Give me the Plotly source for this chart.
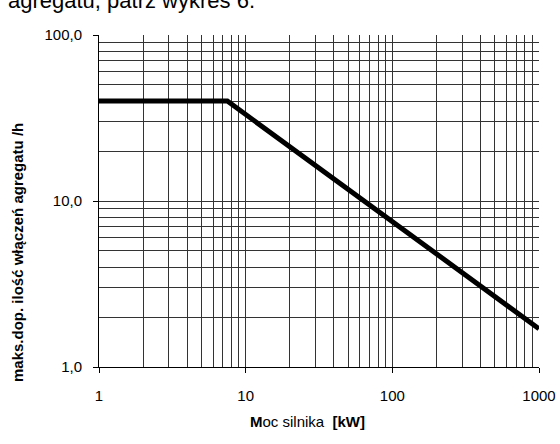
import plotly.graph_objects as go

power_kw = [1, 7.5, 1000]
max_starts = [40, 40, 1.7]

x_major = [1, 10, 100, 1000]
x_major_labels = ["1", "10", "100", "1000"]
y_major = [1, 10, 100]
y_major_labels = ["1,0", "10,0", "100,0"]

x_minor = [m * d for d in [1, 10, 100] for m in range(2, 10)]
y_minor = [m * d for d in [1, 10] for m in range(2, 10)]

L, R, T, B = 99, 21, 35, 77
W, H = 560, 444
PW, PH = W - L - R, H - T - B

def px_x(px):
    return (px - L) / PW

def px_y(py):
    return 1 - (py - T) / PH

fig = go.Figure()
fig.add_trace(go.Scatter(x=power_kw, y=max_starts, mode="lines",
                         line=dict(color="black", width=5), showlegend=False))

grid_col = "#333333"
fig.update_layout(
    width=W, height=H,
    margin=dict(l=L, r=R, t=T, b=B),
    paper_bgcolor="white", plot_bgcolor="white",
    font=dict(family="Liberation Sans, Arial, sans-serif", color="black"),
    xaxis=dict(type="log", range=[0, 3], tickvals=x_major, ticktext=x_major_labels,
               ticks="outside", ticklen=5, tickcolor="black", ticklabelstandoff=10,
               showgrid=True, gridcolor=grid_col, gridwidth=1,
               showline=True, linecolor="black", linewidth=1,
               tickfont=dict(size=15), automargin=False,
               minor=dict(tickvals=x_minor, showgrid=True, gridcolor=grid_col, gridwidth=1, ticks=""),
               zeroline=False),
    yaxis=dict(type="log", range=[0, 2], tickvals=y_major, ticktext=y_major_labels,
               ticks="outside", ticklen=5, tickcolor="black", ticklabelstandoff=8,
               showgrid=True, gridcolor=grid_col, gridwidth=1,
               showline=True, linecolor="black", linewidth=1,
               tickfont=dict(size=15), automargin=False,
               minor=dict(tickvals=y_minor, showgrid=True, gridcolor=grid_col, gridwidth=1, ticks=""),
               zeroline=False),
    annotations=[
        dict(text="agregatu, patrz wykres 6.", x=px_x(6), y=px_y(15), xref="paper", yref="paper",
             xanchor="left", yanchor="bottom", showarrow=False, font=dict(size=22)),
        dict(text="<b>maks.dop. ilość włączeń agregatu /h</b>", x=px_x(18), y=px_y(253),
             xref="paper", yref="paper", xanchor="center", yanchor="middle", textangle=-90,
             showarrow=False, font=dict(size=15)),
        dict(text="<b>M</b>oc silnika  <b>[kW]</b>", x=px_x(307), y=px_y(421),
             xref="paper", yref="paper", xanchor="center", yanchor="middle",
             showarrow=False, font=dict(size=15)),
    ],
)

fig.write_html("out.html", config={"displayModeBar": False},
               post_script="document.body.style.margin='0px';document.body.style.padding='0px';"
                           "document.documentElement.style.margin='0px';")
